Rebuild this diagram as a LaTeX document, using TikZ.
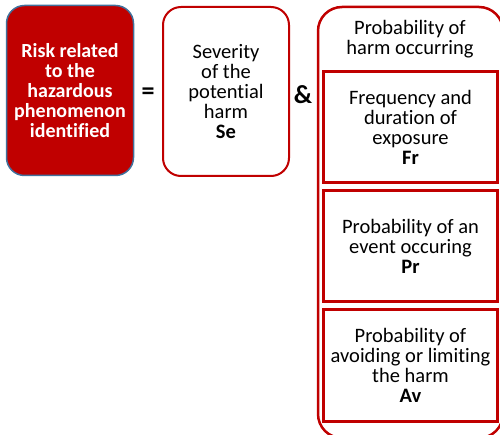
\documentclass[tikz,border=0pt]{standalone}
\usepackage{fontspec}
\setmainfont{Carlito}[Ligatures=NoCommon]
\usetikzlibrary{positioning}
\definecolor{riskred}{HTML}{C00000}
\definecolor{edgeblue}{HTML}{41719C}

\begin{document}
\begin{tikzpicture}[x=1pt,y=-1pt,
    box/.style={rectangle,rounded corners=18pt,align=center,font=\fontsize{20.5}{20}\selectfont,inner sep=0pt},
    riskbox/.style={box,fill=riskred,draw=edgeblue,line width=1.5pt,text=white,font=\fontsize{20}{20}\selectfont\bfseries},
    sebox/.style={box,draw=riskred,line width=2pt,fill=white},
    factorbox/.style={rectangle,draw=riskred,line width=3pt,align=center,
      font=\fontsize{20.5}{20}\selectfont,inner sep=0pt},
    opsign/.style={font=\fontsize{26}{26}\selectfont\bfseries}]
  %% frame
  %% ------------------------------------
  \useasboundingbox (0,0) rectangle (500,435);
  \clip (0,0) rectangle (500,435);

  %% left hand side
  %% ------------------------------------
  \node[riskbox,minimum width=127pt,minimum height=170pt] (risk) at (70,90.5)
    {Risk related\\to the\\hazardous\\phenomenon\\identified};
  \node[opsign] (eq) at (148,94) {=};
  \node[sebox,minimum width=126pt,minimum height=169pt] (se) at (226,91.5)
    {Severity\\of the\\potential\\harm\\\textbf{Se}};
  \node[opsign] (amp) at (303,95) {\&};

  %% probability of harm
  %% ------------------------------------
  \draw[riskred,line width=2.5pt,rounded corners=24pt] (318,7) rectangle (503,438);
  \node[align=center,font=\fontsize{20.5}{20}\selectfont] (prob) at (410,39)
    {Probability of\\harm occurring};
  \node[factorbox,minimum width=174pt,minimum height=111pt] (fr) at (410.5,127.5)
    {Frequency and\\duration of\\exposure\\\textbf{Fr}};
  \node[factorbox,minimum width=174pt,minimum height=110pt,below=5pt of fr] (pr)
    {Probability of an\\event occuring\\\textbf{Pr}};
  \node[factorbox,minimum width=174pt,minimum height=112pt,below=5pt of pr] (av)
    {Probability of\\avoiding or limiting\\the harm\\\textbf{Av}};
\end{tikzpicture}
\end{document}
